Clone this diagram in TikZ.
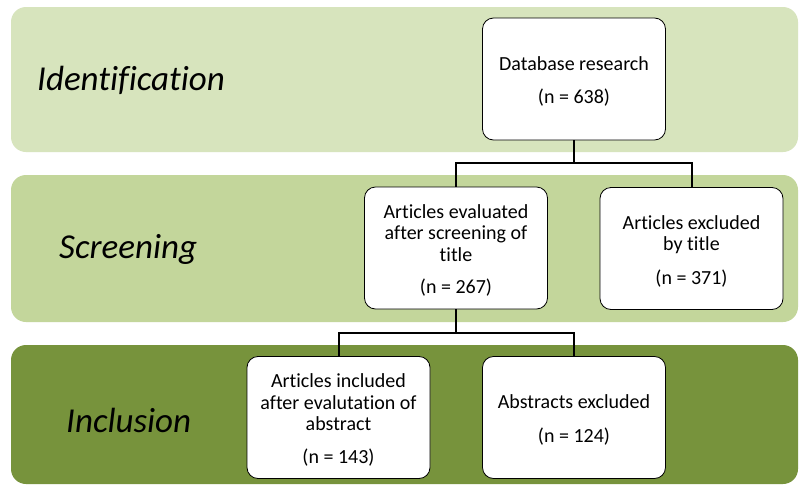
\documentclass[tikz,border=0pt]{standalone}
\usepackage{fontspec}
\setmainfont[Ligatures={NoCommon}]{Carlito}
\definecolor{bandA}{HTML}{D7E4BD}
\definecolor{bandB}{HTML}{C3D69B}
\definecolor{bandC}{HTML}{77933C}
\newcommand{\topstrut}{\rule{0pt}{19pt}}
\begin{document}
\begin{tikzpicture}[x=1pt,y=-1pt,
  band/.style={rounded corners=15pt},
  stage/.style={anchor=west,font=\fontsize{35}{40}\selectfont\itshape,inner sep=0pt},
  box/.style={draw=black,line width=0.8pt,fill=white,rounded corners=11pt,
    minimum width=183pt,minimum height=122pt,align=center,inner sep=2pt,
    font=\fontsize{20}{21.5}\selectfont},
  conn/.style={draw=black,line width=2pt}]
\useasboundingbox (0,0) rectangle (804,485);
\fill[white] (0,0) rectangle (804,485);
% bands
\fill[bandA,band] (11,7) rectangle (798,152);
\fill[bandB,band] (11,175) rectangle (798,322);
\fill[bandC,band] (11,345) rectangle (798,484);
% stage labels
\node[stage] (lid) at (37,80) {Identification};
\node[stage] (lsc) at (59,249) {Screening};
\node[stage] (lin) at (66,420) {Inclusion};
% boxes
\node[box] (b1) at (574,79) {\topstrut Database research\\[12pt](n = 638)};
\node[box] (b2) at (456,248) {\topstrut Articles evaluated\\after screening of\\title\\[11pt](n = 267)};
\node[box] (b3) at (691.5,248.5) {\topstrut Articles excluded\\by title\\[12pt](n = 371)};
\node[box] (b4) at (338.5,417.5) {\topstrut Articles included\\after evalutation of\\abstract\\[11pt](n = 143)};
\node[box] (b5) at (574,417.5) {\topstrut Abstracts excluded\\[12pt](n = 124)};
% junctions
\coordinate (j1) at (574,163);
\coordinate (j2) at (456,333);
% connectors
\draw[conn] (b1.south) -- (j1);
\draw[conn] (b2.north) |- (j1) -| (b3.north);
\draw[conn] (b2.south) -- (j2);
\draw[conn] (b4.north) |- (j2) -| (b5.north);
\end{tikzpicture}
\end{document}
